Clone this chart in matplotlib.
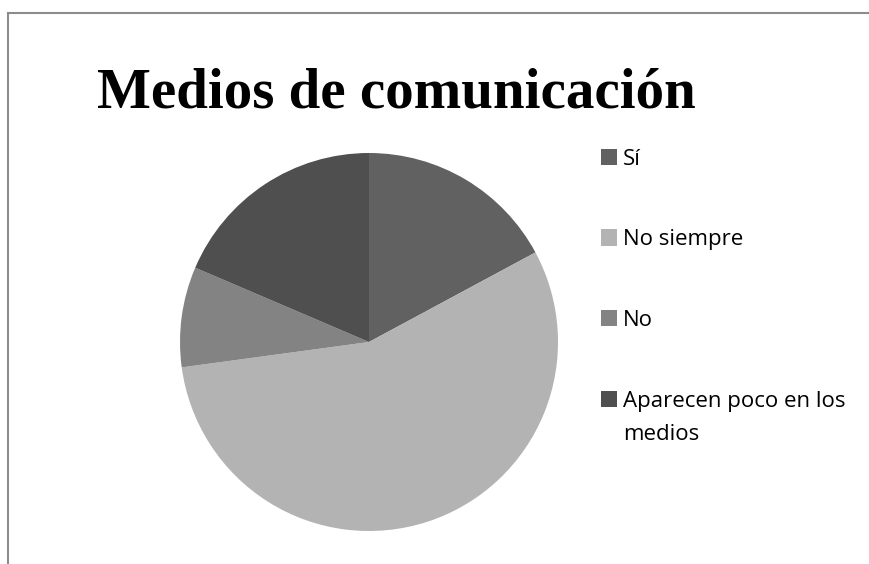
import matplotlib.pyplot as plt
from matplotlib.lines import Line2D
from matplotlib.patches import Rectangle

# =========================
# DATA
# =========================
categories = ["Sí", "No siempre", "No", "Aparecen poco en los\nmedios"]
counts = [12, 39, 6, 13]
colors = ["#616161", "#b3b3b3", "#838383", "#4f4f4f"]
title = "Medios de comunicación"

W, H = 870, 564


def px(x, y):
    """pixel coords (top-left origin) -> figure fraction"""
    return x / W, 1 - y / H


def plot_pie():
    fig = plt.figure(figsize=(W / 100, H / 100), dpi=100)

    # pie area: centre (369, 342) px, radius 189 px
    cx, cy, r = 369, 342, 189
    ax = fig.add_axes([(cx - r) / W, (H - cy - r) / H, 2 * r / W, 2 * r / H])
    wedges, _ = ax.pie(counts, colors=colors, startangle=90, counterclock=False,
                       wedgeprops=dict(linewidth=0))
    ax.set_xlim(-1, 1)
    ax.set_ylim(-1, 1)
    ax.set_aspect("equal")

    # outer frame (top and left edge only visible)
    fig.add_artist(Line2D([8 / W, 1], [1 - 13 / H, 1 - 13 / H], color="#8c8c8c", lw=1.5))
    fig.add_artist(Line2D([8 / W, 8 / W], [0, 1 - 13 / H], color="#8c8c8c", lw=1.5))

    fig.text(*px(97, 107), title, fontsize=41, fontweight="bold",
             family="Liberation Serif", ha="left", va="baseline")

    # legend, drawn by hand so the two-line entry keeps its box on the first line
    row_gap = 80.5
    for i, (lab, col) in enumerate(zip(categories, wedges)):
        base = 165 + i * row_gap
        x0, y0 = px(601, base)
        fig.add_artist(Rectangle((x0, y0), 16 / W, 16 / H, transform=fig.transFigure,
                                 facecolor=col.get_facecolor(), edgecolor="none"))
        lines = lab.split("\n")
        for j, line in enumerate(lines):
            fig.text(*px(623, base + j * 34), line, fontsize=16, family="Open Sans",
                     ha="left", va="baseline")

    fig.savefig("out.png", dpi=100)
    plt.close(fig)


if __name__ == "__main__":
    plot_pie()
